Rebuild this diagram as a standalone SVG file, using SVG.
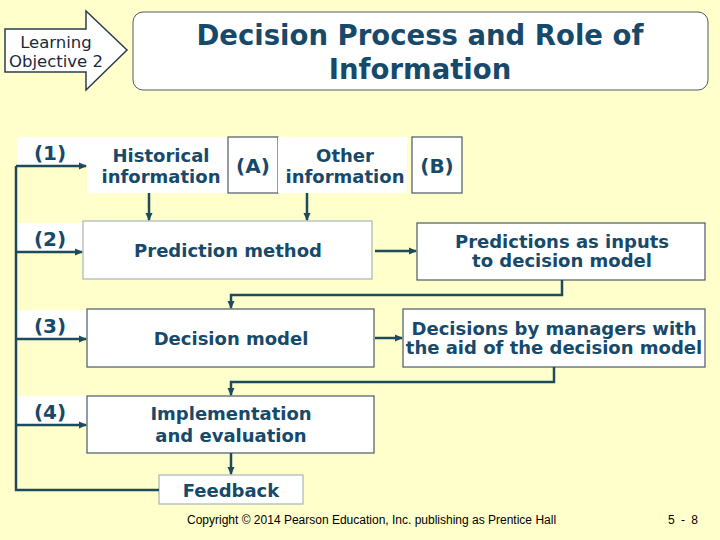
<svg xmlns="http://www.w3.org/2000/svg" width="720" height="540" viewBox="0 0 720 540">
<defs>
<style>
.bg{fill:#FFFFCC}
.box{fill:#FFFFFF;stroke:#A9B4B8;stroke-width:1.2}
.dbox{fill:#FFFFFF;stroke:#4A5A64;stroke-width:1.2}
.plain{fill:#FFFFFF}
.t{font-family:"DejaVu Sans",Verdana,sans-serif;font-weight:bold;font-size:18px;fill:#17496B;text-anchor:middle}
.lbl{font-family:"DejaVu Sans",Verdana,sans-serif;font-weight:bold;font-size:20px;fill:#17496B;text-anchor:middle}
.title{font-family:"DejaVu Sans",Verdana,sans-serif;font-weight:bold;font-size:27.5px;fill:#17496B;text-anchor:middle}
.lo{font-family:"DejaVu Sans",Verdana,sans-serif;font-size:16.5px;fill:#1A2A3A;text-anchor:middle}
.foot{font-family:"Liberation Sans",Arial,sans-serif;font-size:12px;fill:#000000}
.c{fill:none;stroke:#1E4A5E;stroke-width:2.5}
</style>
<marker id="ah" markerWidth="8" markerHeight="8" refX="7" refY="4" orient="auto" markerUnits="userSpaceOnUse">
<path d="M0,0.5 L8,4 L0,7.5 Z" fill="#1E4A5E"/>
</marker>
</defs>
<rect class="bg" x="0" y="0" width="720" height="540"/>

<g id="learning-objective">
<path d="M5,29 L86,29 L86,11 L127,50 L86,90 L86,72 L5,72 Z" fill="#FFFFFF" stroke="#2B3E4E" stroke-width="1.5"/>
<text class="lo" x="56" y="48">Learning</text>
<text class="lo" x="56" y="67">Objective 2</text>
</g>

<g id="title">
<rect x="133" y="12" width="575" height="78" rx="10" fill="#FFFFFF" stroke="#505A60" stroke-width="1"/>
<text class="title" x="420" y="45">Decision Process and Role of</text>
<text class="title" x="420" y="79">Information</text>
</g>

<g id="labels">
<rect class="plain" x="17" y="137" width="70" height="29"/>
<text class="lbl" x="50" y="160">(1)</text>
<rect class="plain" x="17" y="223" width="66" height="29"/>
<text class="lbl" x="50" y="246">(2)</text>
<rect class="plain" x="17" y="310" width="70" height="29"/>
<text class="lbl" x="50" y="333">(3)</text>
<rect class="plain" x="17" y="396" width="70" height="29"/>
<text class="lbl" x="50" y="419">(4)</text>
</g>

<g id="historical">
<rect class="plain" x="87" y="137" width="141" height="56"/>
<text class="t" x="161" y="162">Historical</text>
<text class="t" x="161" y="183">information</text>
</g>
<g id="a">
<rect class="dbox" x="228" y="137" width="50" height="56"/>
<text class="lbl" x="253" y="173">(A)</text>
</g>
<g id="other">
<rect class="plain" x="278" y="137" width="129" height="56"/>
<text class="t" x="345" y="162">Other</text>
<text class="t" x="345" y="183">information</text>
</g>
<g id="b">
<rect class="dbox" x="412" y="137" width="50" height="56"/>
<text class="lbl" x="437" y="173">(B)</text>
</g>

<g id="prediction-method">
<rect class="box" x="83" y="221" width="289" height="58"/>
<text class="t" x="228" y="257">Prediction method</text>
</g>
<g id="predictions">
<rect class="dbox" x="417" y="223" width="288" height="57"/>
<text class="t" x="562" y="248">Predictions as inputs</text>
<text class="t" x="562" y="267">to decision model</text>
</g>

<g id="decision-model">
<rect class="dbox" x="87" y="309" width="287" height="58"/>
<text class="t" x="231" y="345">Decision model</text>
</g>
<g id="decisions">
<rect class="dbox" x="403" y="309" width="302" height="58"/>
<text class="t" x="554" y="335">Decisions by managers with</text>
<text class="t" x="554" y="354">the aid of the decision model</text>
</g>

<g id="implementation">
<rect class="dbox" x="87" y="396" width="287" height="57"/>
<text class="t" x="231" y="420">Implementation</text>
<text class="t" x="231" y="442">and evaluation</text>
</g>

<g id="feedback">
<rect class="box" x="159" y="475" width="144" height="29"/>
<text class="t" x="231" y="497">Feedback</text>
</g>

<g id="connectors">
<path class="c" d="M159,490 L16,490 L16,166"/>
<path class="c" d="M16,166 L86,166" marker-end="url(#ah)"/>
<path class="c" d="M16,252 L82,252" marker-end="url(#ah)"/>
<path class="c" d="M16,339 L86,339" marker-end="url(#ah)"/>
<path class="c" d="M16,425 L86,425" marker-end="url(#ah)"/>
<path class="c" d="M149,193 L149,220" marker-end="url(#ah)"/>
<path class="c" d="M307,193 L307,220" marker-end="url(#ah)"/>
<path class="c" d="M375,251 L416,251" marker-end="url(#ah)"/>
<path class="c" d="M562,280 L562,295 L231,295 L231,308" marker-end="url(#ah)"/>
<path class="c" d="M375,338 L402,338" marker-end="url(#ah)"/>
<path class="c" d="M554,367 L554,382 L231,382 L231,395" marker-end="url(#ah)"/>
<path class="c" d="M231,453 L231,474" marker-end="url(#ah)"/>
</g>

<g id="footer">
<text class="foot" x="187" y="524">Copyright © 2014 Pearson Education, Inc. publishing as Prentice Hall</text>
<text class="foot" x="668" y="524" font-size="13" textLength="30">5 - 8</text>
</g>
</svg>
